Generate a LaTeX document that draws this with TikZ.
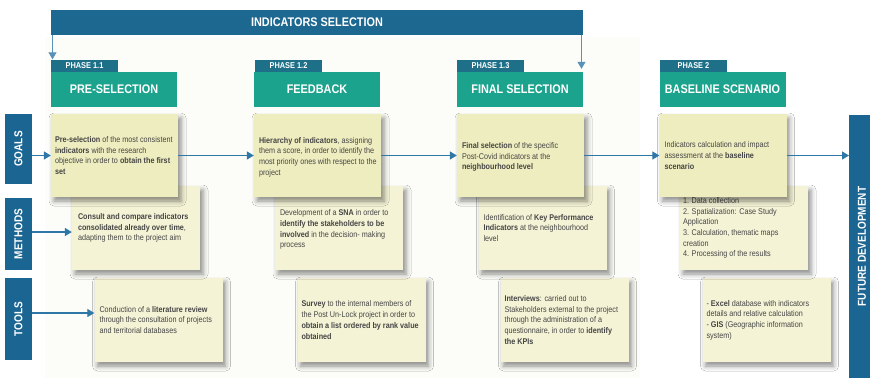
\documentclass[tikz,border=0pt]{standalone}
\usepackage{fontspec}
\setmainfont{Liberation Sans}[FakeStretch=0.87]
\usetikzlibrary{arrows.meta,shadows.blur}
\definecolor{bannerblue}{HTML}{1C6891}
\definecolor{tagblue}{HTML}{1E7088}
\definecolor{headteal}{HTML}{1CA38D}
\definecolor{sideblue}{HTML}{1B6592}
\definecolor{goalyel}{HTML}{EEEDBF}
\definecolor{methyel}{HTML}{F4F3D6}
\definecolor{arrowblue}{HTML}{2F77A6}
\definecolor{bodytext}{HTML}{454545}
\definecolor{faintbg}{HTML}{FCFCF8}
\begin{document}
\begin{tikzpicture}[x=1pt,y=-1pt,
  banner/.style={fill=bannerblue, draw=none, minimum width=532pt, minimum height=25pt, inner sep=0pt,
    text=white, font=\fontsize{12.5}{14}\selectfont\bfseries},
  tagbox/.style={fill=tagblue, minimum width=67pt, minimum height=12pt, inner sep=0pt,
    text=white, font=\fontsize{8.5}{9}\selectfont\bfseries},
  headbox/.style={fill=headteal, minimum width=126pt, minimum height=35pt, inner sep=0pt,
    text=white, font=\fontsize{12.5}{14}\selectfont\bfseries},
  sidebox/.style={fill=sideblue, rotate=90, minimum height=27pt, inner sep=0pt,
    text=white, font=\fontsize{11.5}{13}\selectfont\bfseries},
  shad/.style={blur shadow={shadow xshift=3pt, shadow yshift=-4pt, shadow blur radius=5pt, shadow opacity=45}},
  goalbox/.style={shad, fill=goalyel, minimum width=127pt, minimum height=83pt, inner sep=0pt},
  methbox/.style={shad, fill=methyel, minimum width=128pt, minimum height=84pt, inner sep=0pt},
  txt/.style={anchor=west, align=left, inner sep=0pt, text=bodytext,
    font=\fontsize{8.3}{10.7}\selectfont},
  arr/.style={draw=arrowblue, line width=1.3pt, -{Triangle[length=7pt,width=8pt]}},
  thinarr/.style={draw=arrowblue!80, line width=1pt, -{Triangle[length=7pt,width=8pt]}}
]
\useasboundingbox (0,0) rectangle (870,381);
\fill[white] (0,0) rectangle (870,381);
\fill[faintbg] (45,37) rectangle (640,378);

% banner
\node[banner] (banner) at (317,22.5) {INDICATORS SELECTION};

% phase tags and headers
\node[tagbox] (tag1) at (84.5,65.5) {PHASE 1.1};
\node[tagbox] (tag2) at (288.5,65.5) {PHASE 1.2};
\node[tagbox] (tag3) at (490.5,65.5) {PHASE 1.3};
\node[tagbox] (tag4) at (693.5,65.5) {PHASE 2};
\node[headbox] (head1) at (114,89.5) {PRE-SELECTION};
\node[headbox] (head2) at (317,89.5) {FEEDBACK};
\node[headbox] (head3) at (520,89.5) {FINAL SELECTION};
\node[headbox] (head4) at (722.5,89.5) {BASELINE SCENARIO};

% banner arrows
\coordinate (bl) at (52.5,35);
\coordinate (br) at (581.5,35);
\draw[thinarr] (bl) -- (bl |- tag1.north);
\draw[thinarr] (br) -- ([yshift=3pt]br |- head3.north);

% side labels
\node[sidebox, minimum width=70pt] (lgoals) at (18.5,149) {GOALS};
\node[sidebox, minimum width=72pt] (lmeth) at (18.5,234) {METHODS};
\node[sidebox, minimum width=82pt] (ltools) at (18.5,319) {TOOLS};
\node[sidebox, minimum width=263pt, minimum height=26pt] (lfut) at (862,246.5) {FUTURE DEVELOPMENT};

% tools boxes
\node[methbox] (t1) at (158.5,320) {};
\node[methbox] (t2) at (361.5,320) {};
\node[methbox] (t3) at (564.5,320) {};
\node[methbox] (t4) at (766.5,320) {};
\node[txt] (t1t) at ([xshift=5pt]t1.west) {Conduction of a \textbf{literature review}\\through the consultation of projects\\and territorial databases};
\node[txt] (t2t) at ([xshift=4pt]t2.west) {\textbf{Survey} to the internal members of\\the Post Un-Lock project in order to\\\textbf{obtain a list ordered by rank value}\\\textbf{obtained}};
\node[txt] (t3t) at ([xshift=4pt]t3.west) {\textbf{Interviews}: carried out to\\Stakeholders external to the project\\through the administration of a\\questionnaire, in order to \textbf{identify}\\\textbf{the KPIs}};
\node[txt] (t4t) at ([xshift=4pt]t4.west) {- \textbf{Excel} database with indicators\\details and relative calculation\\- \textbf{GIS} (Geographic information\\system)};

% methods boxes
\node[methbox] (m1) at (136,228) {};
\node[methbox] (m2) at (339,228) {};
\node[methbox] (m3) at (542.5,228) {};
\node[methbox] (m4) at (744,228) {};
\node[txt] (m1t) at ([xshift=6pt]m1.west) {\textbf{Consult and compare indicators}\\\textbf{consolidated already over time},\\adapting them to the project aim};
\node[txt] (m2t) at ([xshift=5pt,yshift=-1.5pt]m2.west) {Development of a \textbf{SNA} in order to\\\textbf{identify the stakeholders to be}\\\textbf{involved} in the decision- making\\process};
\node[txt] (m3t) at ([xshift=5pt]m3.west) {Identification of \textbf{Key Performance}\\\textbf{Indicators} at the neighbourhood\\level};
\node[txt] (m4t) at ([xshift=3pt]m4.west) {1. Data collection\\2. Spatialization: Case Study\\Application\\3. Calculation, thematic maps\\creation\\4. Processing of the results};

% goal boxes
\node[goalbox] (g1) at (114.5,155.5) {};
\node[goalbox] (g2) at (317.5,155.5) {};
\node[goalbox] (g3) at (520.5,155.5) {};
\node[goalbox] (g4) at (723,155.5) {};
\node[txt] (g1t) at ([xshift=4pt]g1.west) {\textbf{Pre-selection} of the most consistent\\\textbf{indicators} with the research\\objective in order to \textbf{obtain the first}\\\textbf{set}};
\node[txt] (g2t) at ([xshift=5pt,yshift=-1.5pt]g2.west) {\textbf{Hierarchy of indicators}, assigning\\them a score, in order to identify the\\most priority ones with respect to the\\project};
\node[txt] (g3t) at ([xshift=5pt,yshift=-1.5pt]g3.west) {\textbf{Final selection} of the specific\\Post-Covid indicators at the\\\textbf{neighbourhood level}};
\node[txt] (g4t) at ([xshift=5pt]g4.west) {Indicators calculation and impact\\assessment at the \textbf{baseline}\\\textbf{scenario}};

% flow arrows
\coordinate (ga) at (32,155.5);
\coordinate (ma) at (32,232);
\coordinate (ta) at (32,313);
\coordinate (fa) at (849,155.5);
\draw[arr] (g1.east) -- (g2.west);
\draw[arr] (g2.east) -- (g3.west);
\draw[arr] (g3.east) -- (g4.west);
\draw[arr] (g4.east) -- (fa);
\draw[arr] (ga) -- (g1.west);
\draw[arr] (ma) -- (ma -| m1.west);
\draw[arr] (ta) -- (ta -| t1.west);
\end{tikzpicture}
\end{document}
